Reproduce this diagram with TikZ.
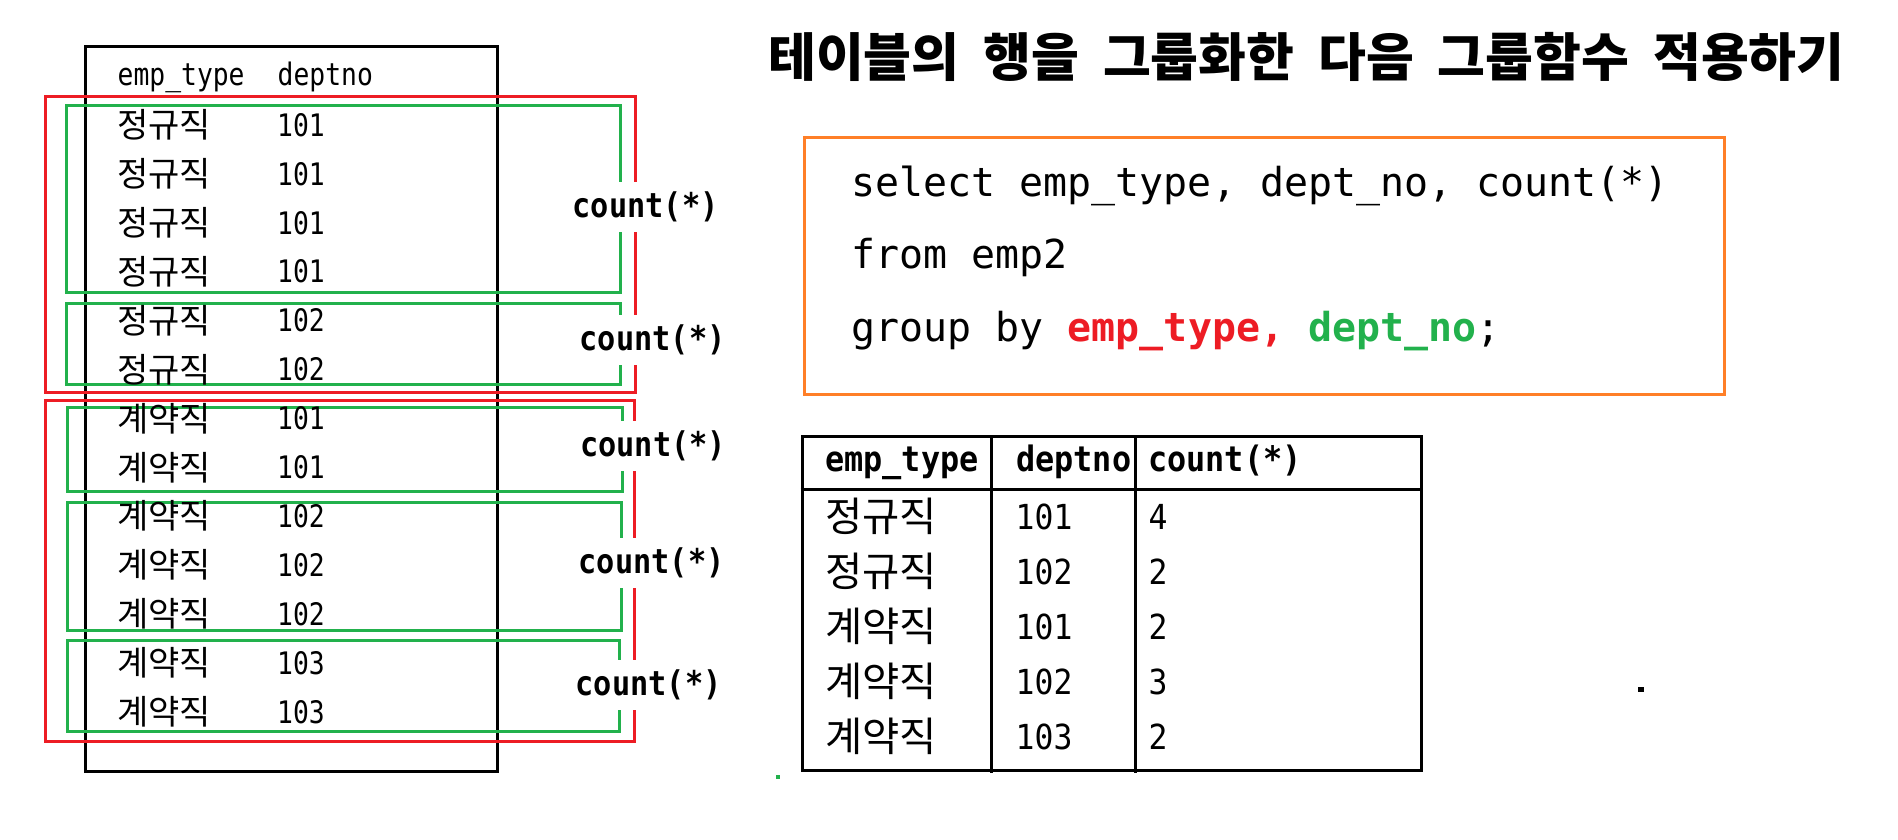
\documentclass[tikz,border=0pt]{standalone}
\usepackage{fontspec}
\newfontfamily\krfont{Noto Sans CJK KR}
\newfontfamily\codefont{DejaVu Sans Mono}
\newfontfamily\cmono[FakeStretch=0.85]{DejaVu Sans Mono}
\newfontfamily\cmonoB[FakeStretch=0.89]{DejaVu Sans Mono}
\newfontfamily\cmonoR[FakeStretch=0.91]{DejaVu Sans Mono}
\definecolor{pred}{RGB}{237,28,36}
\definecolor{pgreen}{RGB}{34,177,76}
\definecolor{porange}{RGB}{255,127,39}
\tikzset{
  frame/.style={line width=3pt},
  lkr/.style={inner sep=0pt, anchor=west, font=\krfont\fontsize{34}{40}\selectfont},
  lnum/.style={inner sep=0pt, anchor=west, font=\cmono\fontsize{31}{36}\selectfont},
  lhead/.style={inner sep=0pt, anchor=base west, font=\cmono\fontsize{31}{36}\selectfont},
  rkr/.style={inner sep=0pt, anchor=west, font=\krfont\fontsize{40.5}{46}\selectfont},
  rnum/.style={inner sep=0pt, anchor=west, font=\cmonoR\fontsize{34.5}{40}\selectfont},
  rhead/.style={inner sep=0pt, anchor=base west, font=\cmonoR\bfseries\fontsize{35}{40}\selectfont},
  cnt/.style={inner sep=0pt, anchor=west, fill=white, minimum height=50pt, font=\cmonoB\bfseries\fontsize{34}{40}\selectfont},
  codeline/.style={inner sep=0pt, anchor=base west, font=\codefont\fontsize{39.9}{46}\selectfont},
  title/.style={inner sep=0pt, anchor=west, font=\krfont\bfseries\fontsize{52}{60}\selectfont}
}
\begin{document}
\begin{tikzpicture}[x=1pt,y=-1pt]
\useasboundingbox[fill=white] (0,0) rectangle (1898,840);

% left source table
\draw[frame] (85.5,47) rectangle (497.5,771);
\draw[frame,pred] (45,97) rectangle (635,392);
\draw[frame,pred] (45,400) rectangle (634,741.5);
\draw[frame,pgreen] (66,106) rectangle (620.5,292);
\draw[frame,pgreen] (66,303) rectangle (620.5,384);
\draw[frame,pgreen] (67,407.5) rectangle (622.5,491.5);
\draw[frame,pgreen] (67,502.5) rectangle (621.5,630.5);
\draw[frame,pgreen] (67,640) rectangle (619,731.5);

\node[lhead] (hType) at (117.5,86) {emp\_type};
\node[lhead] (hDept) at (277.5,86) {deptno};

\foreach \i/\k/\n in {0/정규직/101,1/정규직/101,2/정규직/101,3/정규직/101,4/정규직/102,5/정규직/102,6/계약직/101,7/계약직/101,8/계약직/102,9/계약직/102,10/계약직/102,11/계약직/103,12/계약직/103}{
  \node[lkr] (lk\i) at (117,{125+48.9*\i}) {\k};
  \node[lnum] (ln\i) at (277,{125+48.9*\i}) {\n};
}

\node[cnt] (c1) at (572.5,207) {count(*)};
\node[cnt] (c2) at (579.5,340) {count(*)};
\node[cnt] (c3) at (580,445.5) {count(*)};
\node[cnt] (c4) at (578.5,563) {count(*)};
\node[cnt] (c5) at (575.5,685) {count(*)};

% title
\node[title] (ttl) at (768,57) {테이블의\hspace{0.46em}행을\hspace{0.46em}그룹화한\hspace{0.46em}다음\hspace{0.46em}그룹함수\hspace{0.46em}적용하기};

% SQL box
\draw[frame,porange] (804.5,137.5) rectangle (1724.5,394);
\node[codeline] (q1) at (851.5,196.7) {select emp\_type, dept\_no, count(*)};
\node[codeline] (q2) at (851.5,268.5) {from emp2};
\node[codeline] (q3) at (851.5,341.5) {group by \textcolor{pred}{\bfseries emp\_type,} \textcolor{pgreen}{\bfseries dept\_no};};

% result table
\draw[frame] (802,436.5) rectangle (1421.5,770);
\draw[frame] (800.5,489.3) -- (1421.5,489.3);
\draw[frame] (991.3,436.5) -- (991.3,773);
\draw[frame] (1135.9,436.5) -- (1135.9,773);

\node[rhead] (rh1) at (825,471) {emp\_type};
\node[rhead] (rh2) at (1016,471) {deptno};
\node[rhead] (rh3) at (1148,471) {count(*)};

\foreach \i/\k/\n/\c in {0/정규직/101/4,1/정규직/102/2,2/계약직/101/2,3/계약직/102/3,4/계약직/103/2}{
  \node[rkr] (rk\i) at (825,{516.7+55*\i}) {\k};
  \node[rnum] (rn\i) at (1015.5,{516.7+55*\i}) {\n};
  \node[rnum] (rc\i) at (1148.5,{516.7+55*\i}) {\c};
}

% stray marks
\fill (1638,687) rectangle (1644,692);
\fill[pgreen] (775.5,775) rectangle (779.5,779);
\end{tikzpicture}
\end{document}
